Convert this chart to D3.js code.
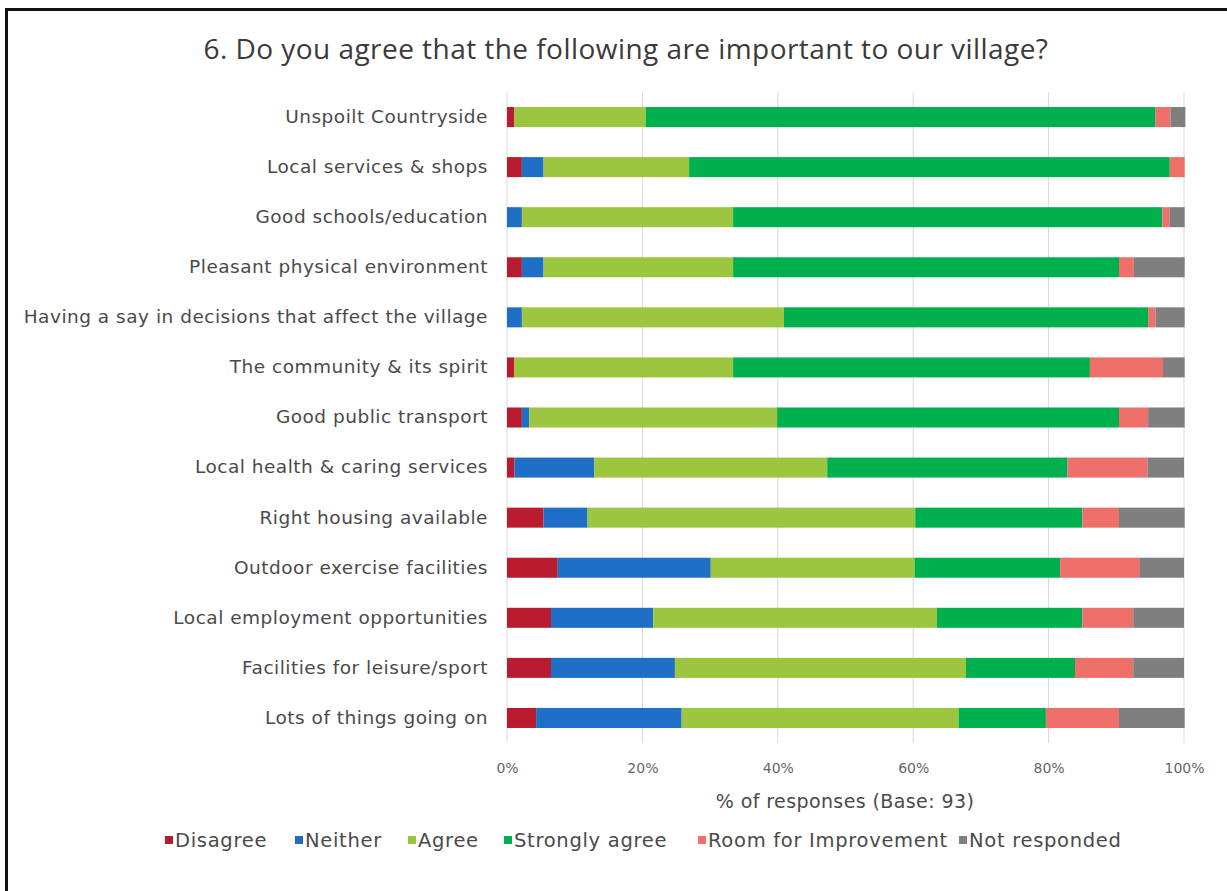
<!DOCTYPE html>
<html>
<head>
<meta charset="utf-8">
<script src="https://cdn.jsdelivr.net/npm/d3@7"></script>
<style>
  html, body { margin: 0; padding: 0; background: #fff; }
  svg { display: block; }
  text { font-family: "DejaVu Sans", sans-serif; }
</style>
</head>
<body>
<svg id="chart" width="1227" height="891"></svg>
<script>
const categories = [
  "Unspoilt Countryside",
  "Local services & shops",
  "Good schools/education",
  "Pleasant physical environment",
  "Having a say in decisions that affect the village",
  "The community & its spirit",
  "Good public transport",
  "Local health & caring services",
  "Right housing available",
  "Outdoor exercise facilities",
  "Local employment opportunities",
  "Facilities for leisure/sport",
  "Lots of things going on"
];
const seriesNames = ["Disagree", "Neither", "Agree", "Strongly agree", "Room for Improvement", "Not responded"];
const seriesColors = ["#b91c2e", "#1f6fc6", "#9cc63f", "#00b04f", "#ef6f6b", "#7f7f7f"];

// % of responses (base 93)
const disagree      = [1.1, 2.2, 0.0, 2.2, 0.0, 1.1, 2.2, 1.1, 5.4, 7.5, 6.5, 6.5, 4.3];
const neither       = [0.0, 3.2, 2.2, 3.2, 2.2, 0.0, 1.1, 11.8, 6.5, 22.6, 15.1, 18.3, 21.5];
const agree         = [19.4, 21.5, 31.2, 28.0, 38.7, 32.3, 36.6, 34.4, 48.4, 30.1, 41.9, 43.0, 40.9];
const stronglyAgree = [75.3, 71.0, 63.4, 57.0, 53.8, 52.7, 50.5, 35.5, 24.7, 21.5, 21.5, 16.1, 12.9];
const roomForImprovement = [2.2, 2.2, 1.1, 2.2, 1.1, 10.8, 4.3, 11.8, 5.4, 11.8, 7.5, 8.6, 10.8];
const notResponded  = [2.2, 0.0, 2.2, 7.5, 4.3, 3.2, 5.4, 5.4, 9.7, 6.5, 7.5, 7.5, 9.7];

const xTicks = [0, 20, 40, 60, 80, 100];
const titleText = "6. Do you agree that the following are important to our village?";
const xAxisTitle = "% of responses (Base: 93)";

const seriesValues = [disagree, neither, agree, stronglyAgree, roomForImprovement, notResponded];
const rows = categories.map((c, i) => {
  const r = { category: c };
  seriesNames.forEach((s, j) => r[s] = seriesValues[j][i]);
  return r;
});
const stacked = d3.stack().keys(seriesNames)(rows);

const svg = d3.select("#chart");
const plotLeft = 507, plotRight = 1184, plotTop = 92, plotBottom = 743;

// frame (top and left edges)
svg.append("rect").attr("x", 5).attr("y", 8).attr("width", 1230).attr("height", 3).attr("fill", "#111");
svg.append("rect").attr("x", 5).attr("y", 8).attr("width", 3).attr("height", 900).attr("fill", "#111");

const x = d3.scaleLinear().domain([0, 100]).range([plotLeft, plotRight]);
const y = d3.scaleBand().domain(categories).range([plotTop, plotBottom]).paddingInner(0.6).paddingOuter(0.3);

// title
svg.append("text").attr("x", 626).attr("y", 59).attr("text-anchor", "middle")
  .style("font-family", "'Open Sans', sans-serif").style("letter-spacing", "0.45px")
  .attr("font-size", 28).attr("fill", "#3a3a3a").text(titleText);

// gridlines
svg.append("g").selectAll("line").data(xTicks).join("line")
  .attr("x1", d => x(d)).attr("x2", d => x(d))
  .attr("y1", plotTop).attr("y2", plotBottom)
  .attr("stroke", "#d9d9d9").attr("stroke-width", 1);

// bars
svg.append("g").selectAll("g").data(stacked).join("g")
  .attr("fill", (d, i) => seriesColors[i])
  .selectAll("rect").data(d => d).join("rect")
  .attr("x", d => x(d[0]))
  .attr("width", d => Math.max(0, x(d[1]) - x(d[0])))
  .attr("y", d => y(d.data.category))
  .attr("height", y.bandwidth());

// y axis labels
const yAxis = d3.axisLeft(y).tickSize(0).tickPadding(19);
const gy = svg.append("g").attr("transform", `translate(${plotLeft},0)`).call(yAxis);
gy.select(".domain").remove();
gy.selectAll("text").attr("font-size", 18.5).attr("fill", "#4a4a4a")
  .style("font-family", "'DejaVu Sans', sans-serif").style("letter-spacing", "0.5px");

// x axis
const xAxis = d3.axisBottom(x).tickValues(xTicks).tickFormat(d => d + "%").tickSize(0).tickPadding(0);
const gx = svg.append("g").attr("transform", `translate(0,${plotBottom + 20})`).call(xAxis);
gx.select(".domain").remove();
gx.selectAll("text").attr("font-size", 14).attr("fill", "#666")
  .style("font-family", "'DejaVu Sans', sans-serif");

svg.append("text").attr("x", 845).attr("y", 808).attr("text-anchor", "middle")
  .style("letter-spacing", "0.4px")
  .attr("font-size", 19).attr("fill", "#4a4a4a").text(xAxisTitle);

// legend
const legendX = [165, 295, 408, 504, 698, 959];
const lg = svg.append("g").selectAll("g").data(seriesNames).join("g")
  .attr("transform", (d, i) => `translate(${legendX[i]},841)`);
lg.append("rect").attr("x", 0).attr("y", -5).attr("width", 8).attr("height", 8)
  .attr("fill", (d, i) => seriesColors[i]);
lg.append("text").attr("x", 10).attr("y", 6).attr("font-size", 19.5).attr("fill", "#4a4a4a")
  .style("letter-spacing", "0.7px").text(d => d);
</script>
</body>
</html>
